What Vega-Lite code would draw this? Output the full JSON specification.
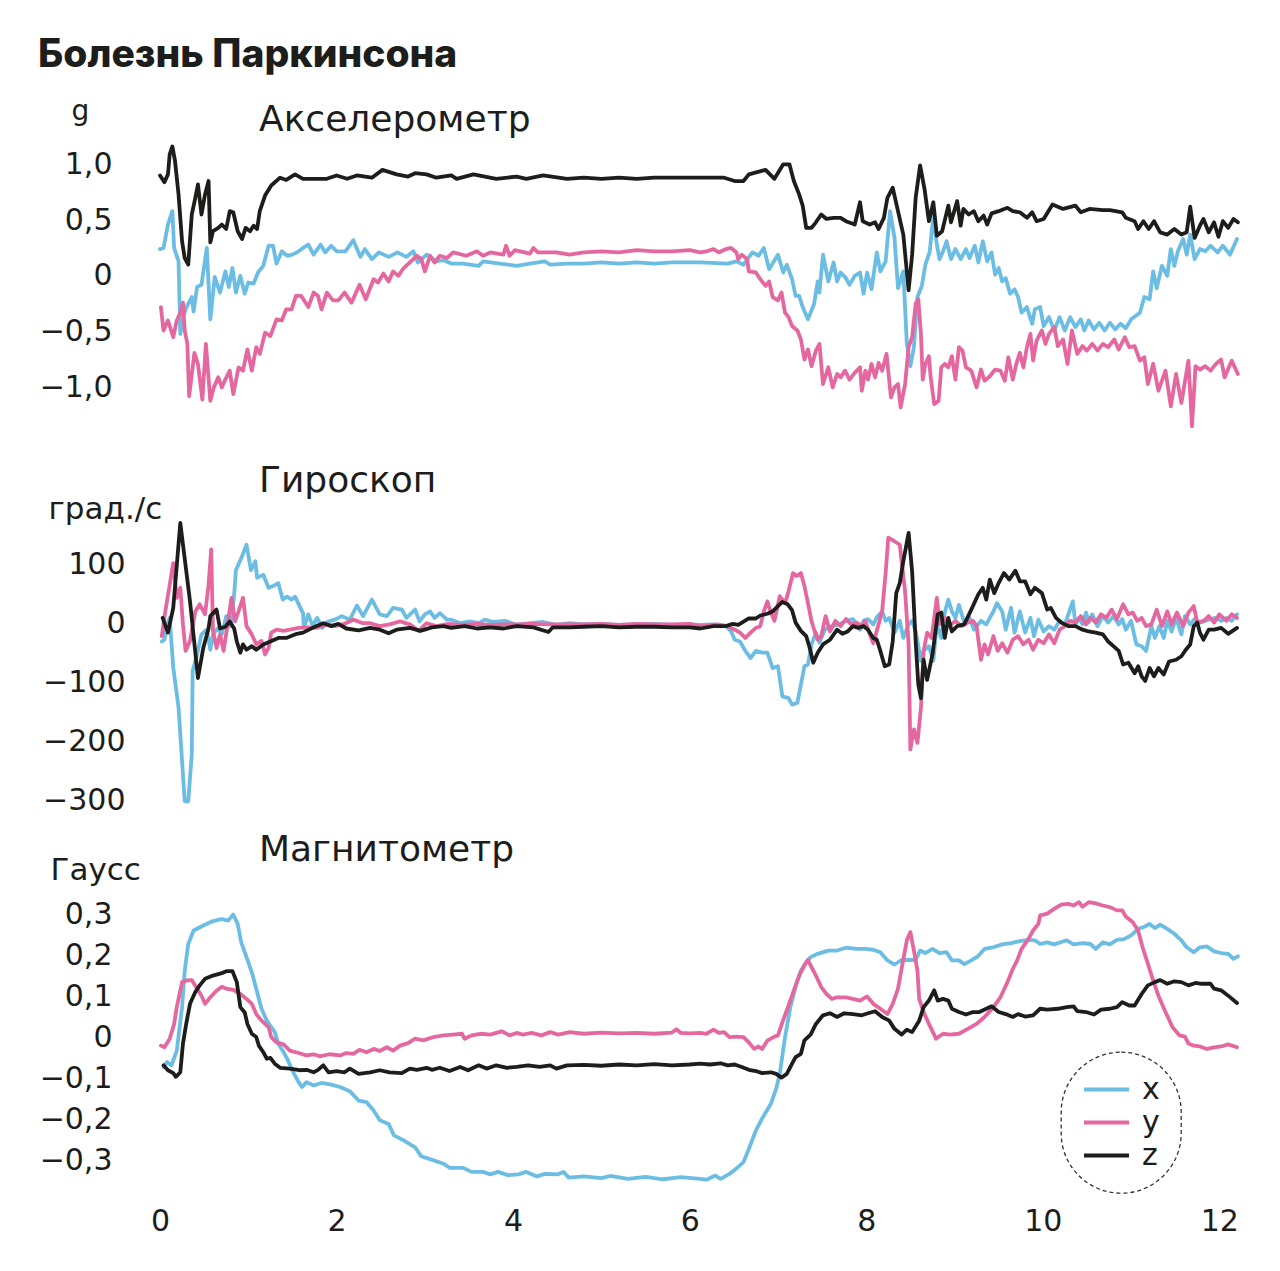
{
"$schema": "https://vega.github.io/schema/vega-lite/v6.json",
"background": "white",
"padding": {"left": 38, "top": 36, "right": 30, "bottom": 20},
"title": {"text": "Болезнь Паркинсона", "anchor": "start", "frame": "group", "dx": -122, "offset": -9, "baseline": "alphabetic", "fontSize": 39, "fontWeight": 800, "font": "Inter", "color": "#1d1d1b"},
"datasets": {
"acc": [
{"t":0,"c":"x","v":0.24},{"t":0.04,"c":"x","v":0.25},{"t":0.09,"c":"x","v":0.46},{"t":0.14,"c":"x","v":0.58},{"t":0.16,"c":"x","v":0.25},{"t":0.21,"c":"x","v":0.13},{"t":0.23,"c":"x","v":-0.52},{"t":0.26,"c":"x","v":-0.37},{"t":0.30,"c":"x","v":-0.28},{"t":0.36,"c":"x","v":-0.19},{"t":0.38,"c":"x","v":-0.32},{"t":0.42,"c":"x","v":-0.10},{"t":0.47,"c":"x","v":-0.08},{"t":0.53,"c":"x","v":0.25},{"t":0.57,"c":"x","v":-0.39},{"t":0.62,"c":"x","v":-0.01},{"t":0.68,"c":"x","v":-0.15},{"t":0.74,"c":"x","v":0.04},{"t":0.78,"c":"x","v":-0.10},{"t":0.82,"c":"x","v":0.07},{"t":0.86,"c":"x","v":-0.15},{"t":0.91,"c":"x","v":0.00},{"t":0.96,"c":"x","v":-0.16},{"t":1.0,"c":"x","v":-0.06},{"t":1.06,"c":"x","v":-0.07},{"t":1.11,"c":"x","v":0.03},{"t":1.17,"c":"x","v":0.09},{"t":1.23,"c":"x","v":0.27},{"t":1.28,"c":"x","v":0.27},{"t":1.32,"c":"x","v":0.11},{"t":1.38,"c":"x","v":0.22},{"t":1.44,"c":"x","v":0.18},{"t":1.50,"c":"x","v":0.19},{"t":1.55,"c":"x","v":0.21},{"t":1.62,"c":"x","v":0.25},{"t":1.68,"c":"x","v":0.28},{"t":1.74,"c":"x","v":0.19},{"t":1.82,"c":"x","v":0.28},{"t":1.87,"c":"x","v":0.21},{"t":1.94,"c":"x","v":0.27},{"t":2.0,"c":"x","v":0.22},{"t":2.1,"c":"x","v":0.22},{"t":2.19,"c":"x","v":0.32},{"t":2.27,"c":"x","v":0.17},{"t":2.32,"c":"x","v":0.24},{"t":2.40,"c":"x","v":0.15},{"t":2.48,"c":"x","v":0.21},{"t":2.59,"c":"x","v":0.17},{"t":2.69,"c":"x","v":0.21},{"t":2.79,"c":"x","v":0.17},{"t":2.87,"c":"x","v":0.22},{"t":2.92,"c":"x","v":0.12},{"t":3.02,"c":"x","v":0.19},{"t":3.13,"c":"x","v":0.13},{"t":3.21,"c":"x","v":0.14},{"t":3.30,"c":"x","v":0.11},{"t":3.43,"c":"x","v":0.11},{"t":3.61,"c":"x","v":0.09},{"t":3.66,"c":"x","v":0.13},{"t":3.85,"c":"x","v":0.11},{"t":4.04,"c":"x","v":0.09},{"t":4.19,"c":"x","v":0.11},{"t":4.36,"c":"x","v":0.13},{"t":4.42,"c":"x","v":0.10},{"t":4.61,"c":"x","v":0.11},{"t":4.8,"c":"x","v":0.11},{"t":5.0,"c":"x","v":0.12},{"t":5.2,"c":"x","v":0.11},{"t":5.4,"c":"x","v":0.12},{"t":5.6,"c":"x","v":0.11},{"t":5.8,"c":"x","v":0.12},{"t":6.0,"c":"x","v":0.12},{"t":6.12,"c":"x","v":0.12},{"t":6.43,"c":"x","v":0.11},{"t":6.53,"c":"x","v":0.13},{"t":6.61,"c":"x","v":0.10},{"t":6.71,"c":"x","v":0.21},{"t":6.78,"c":"x","v":0.18},{"t":6.84,"c":"x","v":0.25},{"t":6.90,"c":"x","v":0.06},{"t":7.00,"c":"x","v":0.19},{"t":7.06,"c":"x","v":0.03},{"t":7.10,"c":"x","v":0.10},{"t":7.16,"c":"x","v":-0.03},{"t":7.20,"c":"x","v":-0.18},{"t":7.24,"c":"x","v":-0.18},{"t":7.28,"c":"x","v":-0.28},{"t":7.34,"c":"x","v":-0.39},{"t":7.41,"c":"x","v":-0.25},{"t":7.45,"c":"x","v":-0.05},{"t":7.47,"c":"x","v":-0.15},{"t":7.51,"c":"x","v":0.19},{"t":7.57,"c":"x","v":-0.05},{"t":7.63,"c":"x","v":0.12},{"t":7.67,"c":"x","v":-0.05},{"t":7.71,"c":"x","v":0.03},{"t":7.77,"c":"x","v":-0.02},{"t":7.81,"c":"x","v":-0.08},{"t":7.87,"c":"x","v":0.00},{"t":7.93,"c":"x","v":0.03},{"t":7.97,"c":"x","v":-0.16},{"t":8.01,"c":"x","v":0.03},{"t":8.06,"c":"x","v":-0.12},{"t":8.12,"c":"x","v":0.21},{"t":8.16,"c":"x","v":0.04},{"t":8.22,"c":"x","v":0.13},{"t":8.27,"c":"x","v":0.58},{"t":8.32,"c":"x","v":0.34},{"t":8.36,"c":"x","v":-0.11},{"t":8.42,"c":"x","v":0.04},{"t":8.46,"c":"x","v":-0.61},{"t":8.50,"c":"x","v":-0.81},{"t":8.54,"c":"x","v":-0.64},{"t":8.58,"c":"x","v":-0.19},{"t":8.63,"c":"x","v":-0.09},{"t":8.67,"c":"x","v":0.10},{"t":8.72,"c":"x","v":0.22},{"t":8.76,"c":"x","v":0.54},{"t":8.80,"c":"x","v":0.28},{"t":8.83,"c":"x","v":0.15},{"t":8.87,"c":"x","v":0.22},{"t":8.91,"c":"x","v":0.31},{"t":8.96,"c":"x","v":0.15},{"t":9.01,"c":"x","v":0.24},{"t":9.07,"c":"x","v":0.15},{"t":9.13,"c":"x","v":0.24},{"t":9.17,"c":"x","v":0.16},{"t":9.23,"c":"x","v":0.27},{"t":9.27,"c":"x","v":0.12},{"t":9.32,"c":"x","v":0.31},{"t":9.37,"c":"x","v":0.13},{"t":9.42,"c":"x","v":0.21},{"t":9.46,"c":"x","v":0.01},{"t":9.50,"c":"x","v":0.07},{"t":9.54,"c":"x","v":-0.05},{"t":9.58,"c":"x","v":-0.02},{"t":9.63,"c":"x","v":-0.16},{"t":9.68,"c":"x","v":-0.12},{"t":9.72,"c":"x","v":-0.19},{"t":9.76,"c":"x","v":-0.33},{"t":9.82,"c":"x","v":-0.28},{"t":9.88,"c":"x","v":-0.43},{"t":9.91,"c":"x","v":-0.30},{"t":9.97,"c":"x","v":-0.28},{"t":10.01,"c":"x","v":-0.45},{"t":10.07,"c":"x","v":-0.37},{"t":10.13,"c":"x","v":-0.49},{"t":10.19,"c":"x","v":-0.37},{"t":10.25,"c":"x","v":-0.49},{"t":10.31,"c":"x","v":-0.37},{"t":10.37,"c":"x","v":-0.46},{"t":10.43,"c":"x","v":-0.39},{"t":10.47,"c":"x","v":-0.49},{"t":10.52,"c":"x","v":-0.40},{"t":10.58,"c":"x","v":-0.48},{"t":10.64,"c":"x","v":-0.42},{"t":10.70,"c":"x","v":-0.49},{"t":10.76,"c":"x","v":-0.42},{"t":10.82,"c":"x","v":-0.48},{"t":10.88,"c":"x","v":-0.43},{"t":10.94,"c":"x","v":-0.47},{"t":11.00,"c":"x","v":-0.39},{"t":11.10,"c":"x","v":-0.33},{"t":11.15,"c":"x","v":-0.19},{"t":11.21,"c":"x","v":-0.21},{"t":11.25,"c":"x","v":0.04},{"t":11.29,"c":"x","v":-0.11},{"t":11.35,"c":"x","v":0.09},{"t":11.41,"c":"x","v":0.00},{"t":11.45,"c":"x","v":0.24},{"t":11.49,"c":"x","v":0.09},{"t":11.53,"c":"x","v":0.22},{"t":11.59,"c":"x","v":0.33},{"t":11.63,"c":"x","v":0.19},{"t":11.67,"c":"x","v":0.37},{"t":11.72,"c":"x","v":0.15},{"t":11.78,"c":"x","v":0.24},{"t":11.84,"c":"x","v":0.22},{"t":11.90,"c":"x","v":0.27},{"t":11.98,"c":"x","v":0.21},{"t":12.04,"c":"x","v":0.27},{"t":12.12,"c":"x","v":0.19},{"t":12.20,"c":"x","v":0.33},
{"t":0.01,"c":"y","v":-0.28},{"t":0.04,"c":"y","v":-0.49},{"t":0.09,"c":"y","v":-0.40},{"t":0.15,"c":"y","v":-0.55},{"t":0.19,"c":"y","v":-0.40},{"t":0.23,"c":"y","v":-0.33},{"t":0.26,"c":"y","v":-0.24},{"t":0.28,"c":"y","v":-0.49},{"t":0.31,"c":"y","v":-0.61},{"t":0.33,"c":"y","v":-1.08},{"t":0.39,"c":"y","v":-0.69},{"t":0.43,"c":"y","v":-0.79},{"t":0.48,"c":"y","v":-1.11},{"t":0.52,"c":"y","v":-0.61},{"t":0.57,"c":"y","v":-1.12},{"t":0.61,"c":"y","v":-1.00},{"t":0.66,"c":"y","v":-0.91},{"t":0.70,"c":"y","v":-1.00},{"t":0.74,"c":"y","v":-0.93},{"t":0.79,"c":"y","v":-0.85},{"t":0.83,"c":"y","v":-1.06},{"t":0.89,"c":"y","v":-0.82},{"t":0.94,"c":"y","v":-0.85},{"t":0.99,"c":"y","v":-0.66},{"t":1.04,"c":"y","v":-0.85},{"t":1.09,"c":"y","v":-0.64},{"t":1.13,"c":"y","v":-0.70},{"t":1.19,"c":"y","v":-0.51},{"t":1.25,"c":"y","v":-0.54},{"t":1.32,"c":"y","v":-0.39},{"t":1.38,"c":"y","v":-0.40},{"t":1.43,"c":"y","v":-0.30},{"t":1.49,"c":"y","v":-0.30},{"t":1.54,"c":"y","v":-0.18},{"t":1.60,"c":"y","v":-0.18},{"t":1.68,"c":"y","v":-0.28},{"t":1.74,"c":"y","v":-0.15},{"t":1.79,"c":"y","v":-0.18},{"t":1.83,"c":"y","v":-0.30},{"t":1.89,"c":"y","v":-0.15},{"t":1.96,"c":"y","v":-0.22},{"t":2.02,"c":"y","v":-0.22},{"t":2.09,"c":"y","v":-0.15},{"t":2.17,"c":"y","v":-0.24},{"t":2.26,"c":"y","v":-0.08},{"t":2.33,"c":"y","v":-0.21},{"t":2.42,"c":"y","v":-0.03},{"t":2.47,"c":"y","v":-0.06},{"t":2.53,"c":"y","v":0.02},{"t":2.59,"c":"y","v":-0.05},{"t":2.64,"c":"y","v":0.04},{"t":2.70,"c":"y","v":0.00},{"t":2.76,"c":"y","v":0.07},{"t":2.83,"c":"y","v":0.12},{"t":2.91,"c":"y","v":0.18},{"t":2.96,"c":"y","v":0.15},{"t":3.00,"c":"y","v":0.04},{"t":3.06,"c":"y","v":0.18},{"t":3.11,"c":"y","v":0.12},{"t":3.17,"c":"y","v":0.18},{"t":3.25,"c":"y","v":0.16},{"t":3.32,"c":"y","v":0.21},{"t":3.47,"c":"y","v":0.18},{"t":3.59,"c":"y","v":0.22},{"t":3.66,"c":"y","v":0.18},{"t":3.74,"c":"y","v":0.21},{"t":3.89,"c":"y","v":0.19},{"t":3.92,"c":"y","v":0.27},{"t":3.96,"c":"y","v":0.18},{"t":4.02,"c":"y","v":0.23},{"t":4.19,"c":"y","v":0.20},{"t":4.23,"c":"y","v":0.25},{"t":4.28,"c":"y","v":0.21},{"t":4.49,"c":"y","v":0.21},{"t":4.64,"c":"y","v":0.19},{"t":4.8,"c":"y","v":0.21},{"t":5.0,"c":"y","v":0.22},{"t":5.2,"c":"y","v":0.21},{"t":5.4,"c":"y","v":0.23},{"t":5.6,"c":"y","v":0.22},{"t":5.8,"c":"y","v":0.22},{"t":6.0,"c":"y","v":0.23},{"t":6.12,"c":"y","v":0.21},{"t":6.19,"c":"y","v":0.22},{"t":6.27,"c":"y","v":0.24},{"t":6.33,"c":"y","v":0.21},{"t":6.41,"c":"y","v":0.24},{"t":6.47,"c":"y","v":0.25},{"t":6.53,"c":"y","v":0.21},{"t":6.55,"c":"y","v":0.15},{"t":6.59,"c":"y","v":0.19},{"t":6.65,"c":"y","v":0.15},{"t":6.67,"c":"y","v":0.04},{"t":6.75,"c":"y","v":0.03},{"t":6.80,"c":"y","v":-0.03},{"t":6.86,"c":"y","v":-0.09},{"t":6.90,"c":"y","v":-0.05},{"t":6.94,"c":"y","v":-0.19},{"t":7.00,"c":"y","v":-0.22},{"t":7.04,"c":"y","v":-0.15},{"t":7.08,"c":"y","v":-0.33},{"t":7.12,"c":"y","v":-0.37},{"t":7.16,"c":"y","v":-0.45},{"t":7.22,"c":"y","v":-0.49},{"t":7.26,"c":"y","v":-0.57},{"t":7.30,"c":"y","v":-0.75},{"t":7.34,"c":"y","v":-0.66},{"t":7.38,"c":"y","v":-0.81},{"t":7.43,"c":"y","v":-0.67},{"t":7.47,"c":"y","v":-0.61},{"t":7.51,"c":"y","v":-0.97},{"t":7.57,"c":"y","v":-0.82},{"t":7.62,"c":"y","v":-1.00},{"t":7.67,"c":"y","v":-0.88},{"t":7.71,"c":"y","v":-0.91},{"t":7.76,"c":"y","v":-0.85},{"t":7.81,"c":"y","v":-0.93},{"t":7.87,"c":"y","v":-0.87},{"t":7.93,"c":"y","v":-0.82},{"t":7.95,"c":"y","v":-1.03},{"t":7.99,"c":"y","v":-0.85},{"t":8.02,"c":"y","v":-0.93},{"t":8.06,"c":"y","v":-0.79},{"t":8.10,"c":"y","v":-0.91},{"t":8.14,"c":"y","v":-0.78},{"t":8.18,"c":"y","v":-0.85},{"t":8.23,"c":"y","v":-0.70},{"t":8.28,"c":"y","v":-1.09},{"t":8.32,"c":"y","v":-1.00},{"t":8.36,"c":"y","v":-0.97},{"t":8.39,"c":"y","v":-1.18},{"t":8.44,"c":"y","v":-0.97},{"t":8.48,"c":"y","v":-0.64},{"t":8.52,"c":"y","v":-0.55},{"t":8.56,"c":"y","v":-0.25},{"t":8.59,"c":"y","v":-0.21},{"t":8.62,"c":"y","v":-0.52},{"t":8.64,"c":"y","v":-0.93},{"t":8.67,"c":"y","v":-0.79},{"t":8.71,"c":"y","v":-0.72},{"t":8.73,"c":"y","v":-0.91},{"t":8.77,"c":"y","v":-1.15},{"t":8.82,"c":"y","v":-1.12},{"t":8.85,"c":"y","v":-0.82},{"t":8.89,"c":"y","v":-0.79},{"t":8.93,"c":"y","v":-0.82},{"t":8.97,"c":"y","v":-0.72},{"t":9.01,"c":"y","v":-0.93},{"t":9.05,"c":"y","v":-0.64},{"t":9.09,"c":"y","v":-0.67},{"t":9.13,"c":"y","v":-0.82},{"t":9.19,"c":"y","v":-0.85},{"t":9.25,"c":"y","v":-1.00},{"t":9.30,"c":"y","v":-0.84},{"t":9.34,"c":"y","v":-0.94},{"t":9.40,"c":"y","v":-0.90},{"t":9.46,"c":"y","v":-0.84},{"t":9.52,"c":"y","v":-0.85},{"t":9.57,"c":"y","v":-0.94},{"t":9.61,"c":"y","v":-0.73},{"t":9.66,"c":"y","v":-0.93},{"t":9.70,"c":"y","v":-0.79},{"t":9.74,"c":"y","v":-0.69},{"t":9.78,"c":"y","v":-0.82},{"t":9.82,"c":"y","v":-0.64},{"t":9.86,"c":"y","v":-0.52},{"t":9.89,"c":"y","v":-0.76},{"t":9.93,"c":"y","v":-0.58},{"t":9.99,"c":"y","v":-0.49},{"t":10.03,"c":"y","v":-0.61},{"t":10.07,"c":"y","v":-0.52},{"t":10.13,"c":"y","v":-0.46},{"t":10.17,"c":"y","v":-0.63},{"t":10.23,"c":"y","v":-0.57},{"t":10.28,"c":"y","v":-0.79},{"t":10.33,"c":"y","v":-0.49},{"t":10.39,"c":"y","v":-0.70},{"t":10.45,"c":"y","v":-0.63},{"t":10.50,"c":"y","v":-0.67},{"t":10.56,"c":"y","v":-0.61},{"t":10.62,"c":"y","v":-0.67},{"t":10.68,"c":"y","v":-0.61},{"t":10.74,"c":"y","v":-0.64},{"t":10.81,"c":"y","v":-0.57},{"t":10.86,"c":"y","v":-0.66},{"t":10.93,"c":"y","v":-0.55},{"t":10.98,"c":"y","v":-0.64},{"t":11.04,"c":"y","v":-0.63},{"t":11.10,"c":"y","v":-0.76},{"t":11.15,"c":"y","v":-0.73},{"t":11.19,"c":"y","v":-0.97},{"t":11.25,"c":"y","v":-0.79},{"t":11.31,"c":"y","v":-1.03},{"t":11.39,"c":"y","v":-0.85},{"t":11.45,"c":"y","v":-1.17},{"t":11.51,"c":"y","v":-0.88},{"t":11.57,"c":"y","v":-1.14},{"t":11.65,"c":"y","v":-0.76},{"t":11.69,"c":"y","v":-1.35},{"t":11.73,"c":"y","v":-0.81},{"t":11.78,"c":"y","v":-0.84},{"t":11.84,"c":"y","v":-0.81},{"t":11.90,"c":"y","v":-0.85},{"t":11.96,"c":"y","v":-0.79},{"t":12.02,"c":"y","v":-0.75},{"t":12.06,"c":"y","v":-0.91},{"t":12.14,"c":"y","v":-0.76},{"t":12.21,"c":"y","v":-0.88},
{"t":0,"c":"z","v":0.90},{"t":0.05,"c":"z","v":0.84},{"t":0.09,"c":"z","v":0.91},{"t":0.11,"c":"z","v":1.09},{"t":0.14,"c":"z","v":1.16},{"t":0.17,"c":"z","v":1.03},{"t":0.21,"c":"z","v":0.73},{"t":0.25,"c":"z","v":0.31},{"t":0.28,"c":"z","v":0.16},{"t":0.32,"c":"z","v":0.10},{"t":0.36,"c":"z","v":0.55},{"t":0.40,"c":"z","v":0.70},{"t":0.43,"c":"z","v":0.82},{"t":0.47,"c":"z","v":0.55},{"t":0.51,"c":"z","v":0.73},{"t":0.55,"c":"z","v":0.85},{"t":0.57,"c":"z","v":0.30},{"t":0.60,"c":"z","v":0.40},{"t":0.66,"c":"z","v":0.43},{"t":0.70,"c":"z","v":0.46},{"t":0.75,"c":"z","v":0.42},{"t":0.79,"c":"z","v":0.58},{"t":0.83,"c":"z","v":0.57},{"t":0.88,"c":"z","v":0.40},{"t":0.93,"c":"z","v":0.33},{"t":0.97,"c":"z","v":0.43},{"t":1.02,"c":"z","v":0.40},{"t":1.06,"c":"z","v":0.45},{"t":1.10,"c":"z","v":0.42},{"t":1.13,"c":"z","v":0.58},{"t":1.19,"c":"z","v":0.72},{"t":1.26,"c":"z","v":0.81},{"t":1.36,"c":"z","v":0.88},{"t":1.43,"c":"z","v":0.86},{"t":1.53,"c":"z","v":0.91},{"t":1.62,"c":"z","v":0.87},{"t":1.75,"c":"z","v":0.87},{"t":1.89,"c":"z","v":0.87},{"t":2.0,"c":"z","v":0.90},{"t":2.12,"c":"z","v":0.87},{"t":2.23,"c":"z","v":0.90},{"t":2.40,"c":"z","v":0.88},{"t":2.52,"c":"z","v":0.95},{"t":2.68,"c":"z","v":0.91},{"t":2.81,"c":"z","v":0.89},{"t":2.89,"c":"z","v":0.92},{"t":3.02,"c":"z","v":0.91},{"t":3.13,"c":"z","v":0.88},{"t":3.30,"c":"z","v":0.90},{"t":3.36,"c":"z","v":0.87},{"t":3.55,"c":"z","v":0.91},{"t":3.81,"c":"z","v":0.87},{"t":4.04,"c":"z","v":0.89},{"t":4.15,"c":"z","v":0.87},{"t":4.34,"c":"z","v":0.90},{"t":4.61,"c":"z","v":0.87},{"t":4.8,"c":"z","v":0.88},{"t":5.0,"c":"z","v":0.87},{"t":5.2,"c":"z","v":0.88},{"t":5.4,"c":"z","v":0.87},{"t":5.6,"c":"z","v":0.88},{"t":5.8,"c":"z","v":0.88},{"t":6.0,"c":"z","v":0.88},{"t":6.12,"c":"z","v":0.88},{"t":6.39,"c":"z","v":0.88},{"t":6.51,"c":"z","v":0.85},{"t":6.61,"c":"z","v":0.85},{"t":6.67,"c":"z","v":0.91},{"t":6.86,"c":"z","v":0.95},{"t":6.96,"c":"z","v":0.87},{"t":7.06,"c":"z","v":1.00},{"t":7.13,"c":"z","v":1.00},{"t":7.18,"c":"z","v":0.85},{"t":7.24,"c":"z","v":0.73},{"t":7.28,"c":"z","v":0.63},{"t":7.32,"c":"z","v":0.43},{"t":7.38,"c":"z","v":0.43},{"t":7.43,"c":"z","v":0.48},{"t":7.49,"c":"z","v":0.55},{"t":7.55,"c":"z","v":0.51},{"t":7.63,"c":"z","v":0.52},{"t":7.71,"c":"z","v":0.52},{"t":7.77,"c":"z","v":0.49},{"t":7.87,"c":"z","v":0.46},{"t":7.93,"c":"z","v":0.66},{"t":7.96,"c":"z","v":0.49},{"t":8.04,"c":"z","v":0.46},{"t":8.10,"c":"z","v":0.48},{"t":8.14,"c":"z","v":0.42},{"t":8.20,"c":"z","v":0.52},{"t":8.24,"c":"z","v":0.70},{"t":8.30,"c":"z","v":0.79},{"t":8.36,"c":"z","v":0.58},{"t":8.42,"c":"z","v":0.37},{"t":8.48,"c":"z","v":-0.13},{"t":8.52,"c":"z","v":0.19},{"t":8.56,"c":"z","v":0.70},{"t":8.61,"c":"z","v":0.99},{"t":8.66,"c":"z","v":0.78},{"t":8.71,"c":"z","v":0.49},{"t":8.76,"c":"z","v":0.66},{"t":8.80,"c":"z","v":0.36},{"t":8.86,"c":"z","v":0.40},{"t":8.93,"c":"z","v":0.63},{"t":8.96,"c":"z","v":0.48},{"t":9.03,"c":"z","v":0.67},{"t":9.07,"c":"z","v":0.45},{"t":9.10,"c":"z","v":0.60},{"t":9.16,"c":"z","v":0.55},{"t":9.22,"c":"z","v":0.58},{"t":9.27,"c":"z","v":0.49},{"t":9.33,"c":"z","v":0.54},{"t":9.37,"c":"z","v":0.46},{"t":9.42,"c":"z","v":0.56},{"t":9.50,"c":"z","v":0.58},{"t":9.60,"c":"z","v":0.61},{"t":9.66,"c":"z","v":0.58},{"t":9.74,"c":"z","v":0.57},{"t":9.82,"c":"z","v":0.52},{"t":9.88,"c":"z","v":0.57},{"t":9.93,"c":"z","v":0.49},{"t":10.01,"c":"z","v":0.51},{"t":10.11,"c":"z","v":0.64},{"t":10.23,"c":"z","v":0.60},{"t":10.37,"c":"z","v":0.63},{"t":10.43,"c":"z","v":0.57},{"t":10.53,"c":"z","v":0.60},{"t":10.68,"c":"z","v":0.59},{"t":10.76,"c":"z","v":0.59},{"t":10.90,"c":"z","v":0.57},{"t":10.94,"c":"z","v":0.52},{"t":11.04,"c":"z","v":0.49},{"t":11.08,"c":"z","v":0.42},{"t":11.14,"c":"z","v":0.49},{"t":11.20,"c":"z","v":0.42},{"t":11.26,"c":"z","v":0.49},{"t":11.33,"c":"z","v":0.39},{"t":11.41,"c":"z","v":0.37},{"t":11.49,"c":"z","v":0.42},{"t":11.57,"c":"z","v":0.37},{"t":11.63,"c":"z","v":0.39},{"t":11.67,"c":"z","v":0.62},{"t":11.72,"c":"z","v":0.34},{"t":11.78,"c":"z","v":0.45},{"t":11.82,"c":"z","v":0.51},{"t":11.88,"c":"z","v":0.39},{"t":11.94,"c":"z","v":0.48},{"t":11.99,"c":"z","v":0.35},{"t":12.04,"c":"z","v":0.49},{"t":12.10,"c":"z","v":0.43},{"t":12.16,"c":"z","v":0.51},{"t":12.21,"c":"z","v":0.48}
],
"gyr": [
{"t":0.02,"c":"x","v":-31},{"t":0.05,"c":"x","v":-28},{"t":0.08,"c":"x","v":-2},{"t":0.11,"c":"x","v":9},{"t":0.15,"c":"x","v":-75},{"t":0.21,"c":"x","v":-143},{"t":0.25,"c":"x","v":-234},{"t":0.28,"c":"x","v":-302},{"t":0.32,"c":"x","v":-302},{"t":0.36,"c":"x","v":-222},{"t":0.37,"c":"x","v":-81},{"t":0.42,"c":"x","v":-53},{"t":0.47,"c":"x","v":-19},{"t":0.53,"c":"x","v":-11},{"t":0.57,"c":"x","v":-45},{"t":0.60,"c":"x","v":-19},{"t":0.66,"c":"x","v":-8},{"t":0.70,"c":"x","v":-19},{"t":0.75,"c":"x","v":12},{"t":0.80,"c":"x","v":-5},{"t":0.84,"c":"x","v":49},{"t":0.86,"c":"x","v":90},{"t":0.92,"c":"x","v":110},{"t":0.98,"c":"x","v":133},{"t":1.03,"c":"x","v":90},{"t":1.08,"c":"x","v":105},{"t":1.10,"c":"x","v":77},{"t":1.17,"c":"x","v":82},{"t":1.23,"c":"x","v":60},{"t":1.28,"c":"x","v":63},{"t":1.34,"c":"x","v":68},{"t":1.39,"c":"x","v":40},{"t":1.44,"c":"x","v":45},{"t":1.49,"c":"x","v":40},{"t":1.53,"c":"x","v":45},{"t":1.59,"c":"x","v":26},{"t":1.62,"c":"x","v":17},{"t":1.63,"c":"x","v":-8},{"t":1.68,"c":"x","v":15},{"t":1.73,"c":"x","v":-5},{"t":1.78,"c":"x","v":9},{"t":1.84,"c":"x","v":-8},{"t":1.89,"c":"x","v":2},{"t":1.98,"c":"x","v":6},{"t":2.06,"c":"x","v":12},{"t":2.15,"c":"x","v":6},{"t":2.23,"c":"x","v":30},{"t":2.30,"c":"x","v":12},{"t":2.40,"c":"x","v":40},{"t":2.49,"c":"x","v":15},{"t":2.57,"c":"x","v":12},{"t":2.64,"c":"x","v":26},{"t":2.74,"c":"x","v":23},{"t":2.79,"c":"x","v":9},{"t":2.89,"c":"x","v":23},{"t":2.94,"c":"x","v":3},{"t":3.00,"c":"x","v":15},{"t":3.06,"c":"x","v":20},{"t":3.11,"c":"x","v":9},{"t":3.17,"c":"x","v":17},{"t":3.25,"c":"x","v":6},{"t":3.30,"c":"x","v":6},{"t":3.40,"c":"x","v":0},{"t":3.51,"c":"x","v":3},{"t":3.61,"c":"x","v":0},{"t":3.68,"c":"x","v":6},{"t":3.77,"c":"x","v":2},{"t":3.91,"c":"x","v":4},{"t":4.04,"c":"x","v":-3},{"t":4.19,"c":"x","v":0},{"t":4.34,"c":"x","v":2},{"t":4.49,"c":"x","v":-3},{"t":4.64,"c":"x","v":0},{"t":4.8,"c":"x","v":-2},{"t":5.0,"c":"x","v":-1},{"t":5.2,"c":"x","v":-3},{"t":5.4,"c":"x","v":-2},{"t":5.6,"c":"x","v":-1},{"t":5.8,"c":"x","v":-3},{"t":6.0,"c":"x","v":-2},{"t":6.12,"c":"x","v":-3},{"t":6.27,"c":"x","v":-2},{"t":6.41,"c":"x","v":-5},{"t":6.47,"c":"x","v":-14},{"t":6.51,"c":"x","v":-28},{"t":6.57,"c":"x","v":-31},{"t":6.63,"c":"x","v":-47},{"t":6.69,"c":"x","v":-59},{"t":6.75,"c":"x","v":-47},{"t":6.82,"c":"x","v":-50},{"t":6.88,"c":"x","v":-50},{"t":6.94,"c":"x","v":-76},{"t":7.00,"c":"x","v":-73},{"t":7.05,"c":"x","v":-124},{"t":7.12,"c":"x","v":-127},{"t":7.16,"c":"x","v":-138},{"t":7.22,"c":"x","v":-135},{"t":7.26,"c":"x","v":-104},{"t":7.30,"c":"x","v":-73},{"t":7.34,"c":"x","v":-70},{"t":7.38,"c":"x","v":-36},{"t":7.43,"c":"x","v":-16},{"t":7.47,"c":"x","v":-33},{"t":7.53,"c":"x","v":-11},{"t":7.61,"c":"x","v":-5},{"t":7.69,"c":"x","v":-2},{"t":7.77,"c":"x","v":4},{"t":7.85,"c":"x","v":7},{"t":7.93,"c":"x","v":-11},{"t":7.97,"c":"x","v":4},{"t":8.02,"c":"x","v":7},{"t":8.08,"c":"x","v":-2},{"t":8.12,"c":"x","v":10},{"t":8.18,"c":"x","v":20},{"t":8.22,"c":"x","v":4},{"t":8.26,"c":"x","v":9},{"t":8.32,"c":"x","v":-16},{"t":8.38,"c":"x","v":4},{"t":8.42,"c":"x","v":-25},{"t":8.48,"c":"x","v":-2},{"t":8.52,"c":"x","v":4},{"t":8.56,"c":"x","v":-14},{"t":8.62,"c":"x","v":-64},{"t":8.65,"c":"x","v":-47},{"t":8.71,"c":"x","v":-39},{"t":8.76,"c":"x","v":-64},{"t":8.80,"c":"x","v":-2},{"t":8.85,"c":"x","v":-25},{"t":8.89,"c":"x","v":18},{"t":8.93,"c":"x","v":40},{"t":8.97,"c":"x","v":20},{"t":9.01,"c":"x","v":9},{"t":9.05,"c":"x","v":31},{"t":9.11,"c":"x","v":1},{"t":9.17,"c":"x","v":9},{"t":9.22,"c":"x","v":-11},{"t":9.30,"c":"x","v":4},{"t":9.36,"c":"x","v":-2},{"t":9.44,"c":"x","v":20},{"t":9.48,"c":"x","v":34},{"t":9.54,"c":"x","v":20},{"t":9.58,"c":"x","v":-11},{"t":9.64,"c":"x","v":26},{"t":9.68,"c":"x","v":-16},{"t":9.74,"c":"x","v":20},{"t":9.80,"c":"x","v":-16},{"t":9.86,"c":"x","v":9},{"t":9.90,"c":"x","v":-22},{"t":9.95,"c":"x","v":6},{"t":10.01,"c":"x","v":-14},{"t":10.07,"c":"x","v":-5},{"t":10.13,"c":"x","v":-11},{"t":10.19,"c":"x","v":4},{"t":10.25,"c":"x","v":-2},{"t":10.29,"c":"x","v":15},{"t":10.34,"c":"x","v":37},{"t":10.37,"c":"x","v":-2},{"t":10.41,"c":"x","v":9},{"t":10.45,"c":"x","v":-2},{"t":10.49,"c":"x","v":18},{"t":10.52,"c":"x","v":1},{"t":10.56,"c":"x","v":15},{"t":10.62,"c":"x","v":-5},{"t":10.68,"c":"x","v":12},{"t":10.74,"c":"x","v":1},{"t":10.80,"c":"x","v":12},{"t":10.86,"c":"x","v":-2},{"t":10.90,"c":"x","v":7},{"t":10.94,"c":"x","v":-11},{"t":11.00,"c":"x","v":4},{"t":11.06,"c":"x","v":-36},{"t":11.12,"c":"x","v":-39},{"t":11.17,"c":"x","v":-47},{"t":11.23,"c":"x","v":-5},{"t":11.27,"c":"x","v":-25},{"t":11.32,"c":"x","v":-5},{"t":11.37,"c":"x","v":-25},{"t":11.41,"c":"x","v":4},{"t":11.46,"c":"x","v":-14},{"t":11.51,"c":"x","v":9},{"t":11.57,"c":"x","v":-19},{"t":11.61,"c":"x","v":12},{"t":11.67,"c":"x","v":-2},{"t":11.72,"c":"x","v":7},{"t":11.78,"c":"x","v":1},{"t":11.84,"c":"x","v":4},{"t":11.90,"c":"x","v":7},{"t":11.96,"c":"x","v":9},{"t":12.02,"c":"x","v":4},{"t":12.08,"c":"x","v":9},{"t":12.14,"c":"x","v":4},{"t":12.20,"c":"x","v":15},
{"t":0.02,"c":"y","v":-22},{"t":0.06,"c":"y","v":20},{"t":0.11,"c":"y","v":65},{"t":0.15,"c":"y","v":102},{"t":0.19,"c":"y","v":43},{"t":0.23,"c":"y","v":60},{"t":0.26,"c":"y","v":-2},{"t":0.29,"c":"y","v":-47},{"t":0.34,"c":"y","v":-30},{"t":0.40,"c":"y","v":20},{"t":0.45,"c":"y","v":32},{"t":0.51,"c":"y","v":15},{"t":0.55,"c":"y","v":65},{"t":0.58,"c":"y","v":125},{"t":0.60,"c":"y","v":-13},{"t":0.64,"c":"y","v":-42},{"t":0.68,"c":"y","v":-19},{"t":0.72,"c":"y","v":-47},{"t":0.76,"c":"y","v":-8},{"t":0.81,"c":"y","v":43},{"t":0.85,"c":"y","v":3},{"t":0.89,"c":"y","v":20},{"t":0.94,"c":"y","v":43},{"t":0.98,"c":"y","v":-5},{"t":1.04,"c":"y","v":-19},{"t":1.09,"c":"y","v":-36},{"t":1.15,"c":"y","v":-30},{"t":1.19,"c":"y","v":-53},{"t":1.23,"c":"y","v":-42},{"t":1.26,"c":"y","v":-16},{"t":1.32,"c":"y","v":-11},{"t":1.40,"c":"y","v":-13},{"t":1.47,"c":"y","v":-11},{"t":1.57,"c":"y","v":-8},{"t":1.66,"c":"y","v":-7},{"t":1.77,"c":"y","v":-8},{"t":1.89,"c":"y","v":-2},{"t":1.98,"c":"y","v":-5},{"t":2.09,"c":"y","v":-1},{"t":2.19,"c":"y","v":6},{"t":2.30,"c":"y","v":0},{"t":2.38,"c":"y","v":0},{"t":2.49,"c":"y","v":-5},{"t":2.60,"c":"y","v":-2},{"t":2.72,"c":"y","v":3},{"t":2.83,"c":"y","v":-2},{"t":2.93,"c":"y","v":-13},{"t":3.02,"c":"y","v":0},{"t":3.13,"c":"y","v":-5},{"t":3.27,"c":"y","v":-1},{"t":3.42,"c":"y","v":-3},{"t":3.59,"c":"y","v":-1},{"t":3.74,"c":"y","v":-3},{"t":3.89,"c":"y","v":-2},{"t":4.04,"c":"y","v":-2},{"t":4.19,"c":"y","v":-1},{"t":4.42,"c":"y","v":-2},{"t":4.64,"c":"y","v":-2},{"t":4.8,"c":"y","v":-2},{"t":5.0,"c":"y","v":-1},{"t":5.2,"c":"y","v":-3},{"t":5.4,"c":"y","v":-1},{"t":5.6,"c":"y","v":-2},{"t":5.8,"c":"y","v":-2},{"t":6.0,"c":"y","v":-1},{"t":6.12,"c":"y","v":-5},{"t":6.31,"c":"y","v":-2},{"t":6.43,"c":"y","v":-5},{"t":6.51,"c":"y","v":-11},{"t":6.57,"c":"y","v":-16},{"t":6.63,"c":"y","v":-25},{"t":6.69,"c":"y","v":-16},{"t":6.75,"c":"y","v":-8},{"t":6.80,"c":"y","v":-5},{"t":6.84,"c":"y","v":20},{"t":6.88,"c":"y","v":37},{"t":6.92,"c":"y","v":18},{"t":6.96,"c":"y","v":4},{"t":7.02,"c":"y","v":46},{"t":7.08,"c":"y","v":34},{"t":7.12,"c":"y","v":54},{"t":7.17,"c":"y","v":85},{"t":7.21,"c":"y","v":80},{"t":7.26,"c":"y","v":85},{"t":7.30,"c":"y","v":63},{"t":7.34,"c":"y","v":34},{"t":7.38,"c":"y","v":4},{"t":7.41,"c":"y","v":-11},{"t":7.45,"c":"y","v":-28},{"t":7.49,"c":"y","v":-22},{"t":7.54,"c":"y","v":12},{"t":7.59,"c":"y","v":-14},{"t":7.65,"c":"y","v":4},{"t":7.71,"c":"y","v":-5},{"t":7.77,"c":"y","v":7},{"t":7.83,"c":"y","v":-2},{"t":7.89,"c":"y","v":1},{"t":7.95,"c":"y","v":-5},{"t":7.99,"c":"y","v":4},{"t":8.04,"c":"y","v":-19},{"t":8.08,"c":"y","v":-34},{"t":8.14,"c":"y","v":-2},{"t":8.18,"c":"y","v":20},{"t":8.22,"c":"y","v":85},{"t":8.25,"c":"y","v":145},{"t":8.32,"c":"y","v":139},{"t":8.38,"c":"y","v":133},{"t":8.44,"c":"y","v":54},{"t":8.48,"c":"y","v":-36},{"t":8.50,"c":"y","v":-214},{"t":8.54,"c":"y","v":-180},{"t":8.58,"c":"y","v":-203},{"t":8.62,"c":"y","v":-143},{"t":8.65,"c":"y","v":-47},{"t":8.69,"c":"y","v":-16},{"t":8.74,"c":"y","v":-25},{"t":8.80,"c":"y","v":43},{"t":8.83,"c":"y","v":-2},{"t":8.89,"c":"y","v":9},{"t":8.94,"c":"y","v":-5},{"t":9.01,"c":"y","v":4},{"t":9.08,"c":"y","v":-5},{"t":9.15,"c":"y","v":1},{"t":9.21,"c":"y","v":4},{"t":9.25,"c":"y","v":-5},{"t":9.30,"c":"y","v":-62},{"t":9.34,"c":"y","v":-36},{"t":9.38,"c":"y","v":-53},{"t":9.44,"c":"y","v":-22},{"t":9.49,"c":"y","v":-47},{"t":9.54,"c":"y","v":-34},{"t":9.60,"c":"y","v":-50},{"t":9.66,"c":"y","v":-28},{"t":9.72,"c":"y","v":-22},{"t":9.78,"c":"y","v":-36},{"t":9.84,"c":"y","v":-28},{"t":9.89,"c":"y","v":-45},{"t":9.95,"c":"y","v":-28},{"t":10.01,"c":"y","v":-34},{"t":10.07,"c":"y","v":-19},{"t":10.13,"c":"y","v":-34},{"t":10.19,"c":"y","v":-11},{"t":10.25,"c":"y","v":-5},{"t":10.31,"c":"y","v":4},{"t":10.37,"c":"y","v":1},{"t":10.43,"c":"y","v":12},{"t":10.49,"c":"y","v":-2},{"t":10.54,"c":"y","v":9},{"t":10.60,"c":"y","v":1},{"t":10.66,"c":"y","v":15},{"t":10.72,"c":"y","v":9},{"t":10.78,"c":"y","v":23},{"t":10.84,"c":"y","v":7},{"t":10.91,"c":"y","v":32},{"t":10.97,"c":"y","v":15},{"t":11.02,"c":"y","v":18},{"t":11.07,"c":"y","v":4},{"t":11.12,"c":"y","v":9},{"t":11.17,"c":"y","v":-5},{"t":11.23,"c":"y","v":-2},{"t":11.29,"c":"y","v":23},{"t":11.35,"c":"y","v":-5},{"t":11.41,"c":"y","v":20},{"t":11.46,"c":"y","v":-2},{"t":11.52,"c":"y","v":18},{"t":11.59,"c":"y","v":-5},{"t":11.65,"c":"y","v":18},{"t":11.71,"c":"y","v":29},{"t":11.75,"c":"y","v":1},{"t":11.82,"c":"y","v":4},{"t":11.88,"c":"y","v":12},{"t":11.94,"c":"y","v":1},{"t":12.00,"c":"y","v":15},{"t":12.08,"c":"y","v":4},{"t":12.14,"c":"y","v":15},{"t":12.20,"c":"y","v":9},
{"t":0.03,"c":"z","v":9},{"t":0.09,"c":"z","v":-16},{"t":0.15,"c":"z","v":26},{"t":0.23,"c":"z","v":170},{"t":0.34,"c":"z","v":37},{"t":0.43,"c":"z","v":-93},{"t":0.49,"c":"z","v":-42},{"t":0.55,"c":"z","v":-9},{"t":0.57,"c":"z","v":12},{"t":0.64,"c":"z","v":23},{"t":0.68,"c":"z","v":-9},{"t":0.74,"c":"z","v":-6},{"t":0.79,"c":"z","v":3},{"t":0.84,"c":"z","v":-9},{"t":0.87,"c":"z","v":-31},{"t":0.91,"c":"z","v":-50},{"t":0.94,"c":"z","v":-36},{"t":0.98,"c":"z","v":-45},{"t":1.04,"c":"z","v":-39},{"t":1.09,"c":"z","v":-45},{"t":1.17,"c":"z","v":-36},{"t":1.25,"c":"z","v":-31},{"t":1.34,"c":"z","v":-25},{"t":1.43,"c":"z","v":-25},{"t":1.55,"c":"z","v":-18},{"t":1.62,"c":"z","v":-16},{"t":1.74,"c":"z","v":-7},{"t":1.85,"c":"z","v":0},{"t":1.94,"c":"z","v":-5},{"t":2.02,"c":"z","v":-1},{"t":2.11,"c":"z","v":-9},{"t":2.25,"c":"z","v":-12},{"t":2.38,"c":"z","v":-8},{"t":2.49,"c":"z","v":-11},{"t":2.59,"c":"z","v":-17},{"t":2.68,"c":"z","v":-11},{"t":2.83,"c":"z","v":-8},{"t":2.95,"c":"z","v":-13},{"t":3.08,"c":"z","v":-7},{"t":3.21,"c":"z","v":-5},{"t":3.30,"c":"z","v":-8},{"t":3.45,"c":"z","v":-5},{"t":3.59,"c":"z","v":-9},{"t":3.74,"c":"z","v":-7},{"t":3.89,"c":"z","v":-9},{"t":4.04,"c":"z","v":-5},{"t":4.23,"c":"z","v":-7},{"t":4.40,"c":"z","v":-15},{"t":4.45,"c":"z","v":-7},{"t":4.64,"c":"z","v":-7},{"t":4.8,"c":"z","v":-6},{"t":5.0,"c":"z","v":-5},{"t":5.2,"c":"z","v":-7},{"t":5.4,"c":"z","v":-6},{"t":5.6,"c":"z","v":-6},{"t":5.8,"c":"z","v":-7},{"t":6.0,"c":"z","v":-7},{"t":6.12,"c":"z","v":-9},{"t":6.27,"c":"z","v":-5},{"t":6.41,"c":"z","v":-5},{"t":6.49,"c":"z","v":-1},{"t":6.55,"c":"z","v":-3},{"t":6.67,"c":"z","v":8},{"t":6.75,"c":"z","v":8},{"t":6.80,"c":"z","v":13},{"t":6.88,"c":"z","v":16},{"t":6.94,"c":"z","v":20},{"t":7.00,"c":"z","v":29},{"t":7.05,"c":"z","v":36},{"t":7.11,"c":"z","v":32},{"t":7.16,"c":"z","v":22},{"t":7.20,"c":"z","v":1},{"t":7.26,"c":"z","v":-13},{"t":7.32,"c":"z","v":-22},{"t":7.36,"c":"z","v":-42},{"t":7.40,"c":"z","v":-67},{"t":7.45,"c":"z","v":-50},{"t":7.51,"c":"z","v":-36},{"t":7.59,"c":"z","v":-28},{"t":7.67,"c":"z","v":-11},{"t":7.73,"c":"z","v":-18},{"t":7.79,"c":"z","v":-14},{"t":7.85,"c":"z","v":-5},{"t":7.91,"c":"z","v":-8},{"t":7.97,"c":"z","v":-5},{"t":8.02,"c":"z","v":-11},{"t":8.08,"c":"z","v":-25},{"t":8.12,"c":"z","v":-28},{"t":8.16,"c":"z","v":-47},{"t":8.21,"c":"z","v":-73},{"t":8.26,"c":"z","v":-70},{"t":8.30,"c":"z","v":-31},{"t":8.34,"c":"z","v":51},{"t":8.38,"c":"z","v":68},{"t":8.42,"c":"z","v":105},{"t":8.48,"c":"z","v":153},{"t":8.52,"c":"z","v":88},{"t":8.56,"c":"z","v":-31},{"t":8.59,"c":"z","v":-104},{"t":8.62,"c":"z","v":-127},{"t":8.65,"c":"z","v":-62},{"t":8.69,"c":"z","v":-96},{"t":8.75,"c":"z","v":-53},{"t":8.81,"c":"z","v":15},{"t":8.85,"c":"z","v":18},{"t":8.89,"c":"z","v":-25},{"t":8.93,"c":"z","v":9},{"t":8.97,"c":"z","v":-14},{"t":9.03,"c":"z","v":-5},{"t":9.11,"c":"z","v":-2},{"t":9.19,"c":"z","v":23},{"t":9.27,"c":"z","v":49},{"t":9.32,"c":"z","v":60},{"t":9.36,"c":"z","v":40},{"t":9.40,"c":"z","v":74},{"t":9.45,"c":"z","v":51},{"t":9.50,"c":"z","v":68},{"t":9.56,"c":"z","v":85},{"t":9.62,"c":"z","v":74},{"t":9.69,"c":"z","v":89},{"t":9.74,"c":"z","v":71},{"t":9.80,"c":"z","v":71},{"t":9.86,"c":"z","v":49},{"t":9.91,"c":"z","v":60},{"t":9.99,"c":"z","v":51},{"t":10.05,"c":"z","v":23},{"t":10.09,"c":"z","v":26},{"t":10.15,"c":"z","v":9},{"t":10.21,"c":"z","v":1},{"t":10.29,"c":"z","v":-5},{"t":10.37,"c":"z","v":-5},{"t":10.45,"c":"z","v":-11},{"t":10.52,"c":"z","v":-14},{"t":10.60,"c":"z","v":-16},{"t":10.68,"c":"z","v":-19},{"t":10.74,"c":"z","v":-31},{"t":10.80,"c":"z","v":-39},{"t":10.86,"c":"z","v":-47},{"t":10.91,"c":"z","v":-70},{"t":10.97,"c":"z","v":-67},{"t":11.04,"c":"z","v":-85},{"t":11.08,"c":"z","v":-73},{"t":11.12,"c":"z","v":-90},{"t":11.16,"c":"z","v":-98},{"t":11.21,"c":"z","v":-76},{"t":11.26,"c":"z","v":-90},{"t":11.31,"c":"z","v":-76},{"t":11.37,"c":"z","v":-87},{"t":11.43,"c":"z","v":-65},{"t":11.51,"c":"z","v":-62},{"t":11.57,"c":"z","v":-56},{"t":11.62,"c":"z","v":-45},{"t":11.67,"c":"z","v":-36},{"t":11.71,"c":"z","v":-5},{"t":11.75,"c":"z","v":1},{"t":11.78,"c":"z","v":-16},{"t":11.82,"c":"z","v":-28},{"t":11.88,"c":"z","v":-11},{"t":11.94,"c":"z","v":-11},{"t":12.02,"c":"z","v":-8},{"t":12.10,"c":"z","v":-18},{"t":12.20,"c":"z","v":-8}
],
"mag": [
{"t":0.04,"c":"x","v":-0.072},{"t":0.08,"c":"x","v":-0.060},{"t":0.13,"c":"x","v":-0.068},{"t":0.19,"c":"x","v":-0.032},{"t":0.25,"c":"x","v":0.074},{"t":0.28,"c":"x","v":0.163},{"t":0.32,"c":"x","v":0.228},{"t":0.38,"c":"x","v":0.261},{"t":0.49,"c":"x","v":0.273},{"t":0.60,"c":"x","v":0.284},{"t":0.70,"c":"x","v":0.289},{"t":0.77,"c":"x","v":0.285},{"t":0.83,"c":"x","v":0.300},{"t":0.88,"c":"x","v":0.277},{"t":0.92,"c":"x","v":0.232},{"t":0.98,"c":"x","v":0.196},{"t":1.04,"c":"x","v":0.159},{"t":1.09,"c":"x","v":0.119},{"t":1.15,"c":"x","v":0.070},{"t":1.21,"c":"x","v":0.041},{"t":1.26,"c":"x","v":0.025},{"t":1.30,"c":"x","v":0.013},{"t":1.34,"c":"x","v":-0.015},{"t":1.40,"c":"x","v":-0.036},{"t":1.45,"c":"x","v":-0.056},{"t":1.51,"c":"x","v":-0.085},{"t":1.57,"c":"x","v":-0.109},{"t":1.61,"c":"x","v":-0.121},{"t":1.66,"c":"x","v":-0.109},{"t":1.74,"c":"x","v":-0.117},{"t":1.83,"c":"x","v":-0.111},{"t":1.94,"c":"x","v":-0.115},{"t":2.04,"c":"x","v":-0.121},{"t":2.15,"c":"x","v":-0.131},{"t":2.25,"c":"x","v":-0.154},{"t":2.34,"c":"x","v":-0.158},{"t":2.42,"c":"x","v":-0.178},{"t":2.49,"c":"x","v":-0.202},{"t":2.59,"c":"x","v":-0.211},{"t":2.65,"c":"x","v":-0.239},{"t":2.76,"c":"x","v":-0.251},{"t":2.89,"c":"x","v":-0.268},{"t":2.96,"c":"x","v":-0.290},{"t":3.10,"c":"x","v":-0.300},{"t":3.21,"c":"x","v":-0.308},{"t":3.28,"c":"x","v":-0.318},{"t":3.43,"c":"x","v":-0.318},{"t":3.53,"c":"x","v":-0.328},{"t":3.66,"c":"x","v":-0.328},{"t":3.74,"c":"x","v":-0.334},{"t":3.83,"c":"x","v":-0.328},{"t":3.94,"c":"x","v":-0.336},{"t":4.06,"c":"x","v":-0.334},{"t":4.15,"c":"x","v":-0.328},{"t":4.27,"c":"x","v":-0.339},{"t":4.36,"c":"x","v":-0.333},{"t":4.51,"c":"x","v":-0.334},{"t":4.57,"c":"x","v":-0.328},{"t":4.63,"c":"x","v":-0.342},{"t":4.8,"c":"x","v":-0.339},{"t":5.0,"c":"x","v":-0.343},{"t":5.1,"c":"x","v":-0.338},{"t":5.3,"c":"x","v":-0.345},{"t":5.5,"c":"x","v":-0.340},{"t":5.7,"c":"x","v":-0.346},{"t":5.9,"c":"x","v":-0.341},{"t":6.12,"c":"x","v":-0.345},{"t":6.19,"c":"x","v":-0.347},{"t":6.29,"c":"x","v":-0.337},{"t":6.35,"c":"x","v":-0.345},{"t":6.45,"c":"x","v":-0.333},{"t":6.55,"c":"x","v":-0.316},{"t":6.61,"c":"x","v":-0.304},{"t":6.67,"c":"x","v":-0.272},{"t":6.75,"c":"x","v":-0.227},{"t":6.82,"c":"x","v":-0.198},{"t":6.92,"c":"x","v":-0.162},{"t":6.98,"c":"x","v":-0.125},{"t":7.02,"c":"x","v":-0.089},{"t":7.08,"c":"x","v":0.000},{"t":7.14,"c":"x","v":0.074},{"t":7.20,"c":"x","v":0.123},{"t":7.26,"c":"x","v":0.163},{"t":7.32,"c":"x","v":0.184},{"t":7.37,"c":"x","v":0.196},{"t":7.45,"c":"x","v":0.204},{"t":7.57,"c":"x","v":0.212},{"t":7.67,"c":"x","v":0.212},{"t":7.77,"c":"x","v":0.219},{"t":7.89,"c":"x","v":0.216},{"t":7.99,"c":"x","v":0.216},{"t":8.08,"c":"x","v":0.214},{"t":8.16,"c":"x","v":0.208},{"t":8.24,"c":"x","v":0.188},{"t":8.32,"c":"x","v":0.178},{"t":8.40,"c":"x","v":0.189},{"t":8.48,"c":"x","v":0.189},{"t":8.56,"c":"x","v":0.189},{"t":8.61,"c":"x","v":0.212},{"t":8.67,"c":"x","v":0.206},{"t":8.75,"c":"x","v":0.216},{"t":8.83,"c":"x","v":0.206},{"t":8.91,"c":"x","v":0.208},{"t":8.97,"c":"x","v":0.188},{"t":9.05,"c":"x","v":0.188},{"t":9.11,"c":"x","v":0.179},{"t":9.19,"c":"x","v":0.188},{"t":9.26,"c":"x","v":0.197},{"t":9.34,"c":"x","v":0.216},{"t":9.44,"c":"x","v":0.220},{"t":9.54,"c":"x","v":0.227},{"t":9.64,"c":"x","v":0.230},{"t":9.74,"c":"x","v":0.235},{"t":9.84,"c":"x","v":0.238},{"t":9.91,"c":"x","v":0.237},{"t":9.97,"c":"x","v":0.228},{"t":10.05,"c":"x","v":0.232},{"t":10.13,"c":"x","v":0.227},{"t":10.27,"c":"x","v":0.237},{"t":10.35,"c":"x","v":0.227},{"t":10.45,"c":"x","v":0.230},{"t":10.54,"c":"x","v":0.228},{"t":10.60,"c":"x","v":0.216},{"t":10.68,"c":"x","v":0.232},{"t":10.76,"c":"x","v":0.227},{"t":10.84,"c":"x","v":0.238},{"t":10.92,"c":"x","v":0.240},{"t":11.00,"c":"x","v":0.249},{"t":11.08,"c":"x","v":0.265},{"t":11.15,"c":"x","v":0.270},{"t":11.21,"c":"x","v":0.277},{"t":11.27,"c":"x","v":0.267},{"t":11.33,"c":"x","v":0.275},{"t":11.41,"c":"x","v":0.265},{"t":11.49,"c":"x","v":0.253},{"t":11.57,"c":"x","v":0.237},{"t":11.63,"c":"x","v":0.220},{"t":11.71,"c":"x","v":0.208},{"t":11.78,"c":"x","v":0.220},{"t":11.86,"c":"x","v":0.222},{"t":11.94,"c":"x","v":0.210},{"t":12.02,"c":"x","v":0.206},{"t":12.10,"c":"x","v":0.204},{"t":12.16,"c":"x","v":0.192},{"t":12.21,"c":"x","v":0.198},
{"t":0.01,"c":"y","v":-0.020},{"t":0.05,"c":"y","v":-0.024},{"t":0.11,"c":"y","v":-0.003},{"t":0.16,"c":"y","v":0.033},{"t":0.19,"c":"y","v":0.074},{"t":0.25,"c":"y","v":0.135},{"t":0.30,"c":"y","v":0.139},{"t":0.36,"c":"y","v":0.140},{"t":0.42,"c":"y","v":0.119},{"t":0.47,"c":"y","v":0.102},{"t":0.51,"c":"y","v":0.082},{"t":0.57,"c":"y","v":0.098},{"t":0.64,"c":"y","v":0.114},{"t":0.70,"c":"y","v":0.124},{"t":0.75,"c":"y","v":0.119},{"t":0.83,"c":"y","v":0.116},{"t":0.91,"c":"y","v":0.106},{"t":0.98,"c":"y","v":0.094},{"t":1.04,"c":"y","v":0.082},{"t":1.09,"c":"y","v":0.057},{"t":1.15,"c":"y","v":0.041},{"t":1.23,"c":"y","v":0.025},{"t":1.26,"c":"y","v":0.001},{"t":1.32,"c":"y","v":-0.012},{"t":1.40,"c":"y","v":-0.017},{"t":1.47,"c":"y","v":-0.032},{"t":1.57,"c":"y","v":-0.038},{"t":1.66,"c":"y","v":-0.044},{"t":1.74,"c":"y","v":-0.041},{"t":1.81,"c":"y","v":-0.046},{"t":1.92,"c":"y","v":-0.041},{"t":2.04,"c":"y","v":-0.044},{"t":2.11,"c":"y","v":-0.038},{"t":2.19,"c":"y","v":-0.040},{"t":2.26,"c":"y","v":-0.030},{"t":2.34,"c":"y","v":-0.036},{"t":2.42,"c":"y","v":-0.028},{"t":2.49,"c":"y","v":-0.033},{"t":2.57,"c":"y","v":-0.024},{"t":2.64,"c":"y","v":-0.032},{"t":2.72,"c":"y","v":-0.020},{"t":2.81,"c":"y","v":-0.014},{"t":2.89,"c":"y","v":-0.003},{"t":2.98,"c":"y","v":-0.007},{"t":3.10,"c":"y","v":0.001},{"t":3.21,"c":"y","v":0.005},{"t":3.32,"c":"y","v":0.007},{"t":3.42,"c":"y","v":0.009},{"t":3.45,"c":"y","v":-0.003},{"t":3.53,"c":"y","v":0.005},{"t":3.63,"c":"y","v":0.009},{"t":3.74,"c":"y","v":0.007},{"t":3.87,"c":"y","v":0.015},{"t":3.96,"c":"y","v":0.005},{"t":4.04,"c":"y","v":0.011},{"t":4.11,"c":"y","v":0.007},{"t":4.21,"c":"y","v":0.011},{"t":4.32,"c":"y","v":0.005},{"t":4.42,"c":"y","v":0.013},{"t":4.51,"c":"y","v":0.007},{"t":4.64,"c":"y","v":0.013},{"t":4.8,"c":"y","v":0.009},{"t":5.0,"c":"y","v":0.012},{"t":5.2,"c":"y","v":0.010},{"t":5.4,"c":"y","v":0.011},{"t":5.6,"c":"y","v":0.009},{"t":5.8,"c":"y","v":0.012},{"t":5.85,"c":"y","v":0.020},{"t":5.9,"c":"y","v":0.011},{"t":6.0,"c":"y","v":0.010},{"t":6.12,"c":"y","v":0.011},{"t":6.19,"c":"y","v":0.009},{"t":6.27,"c":"y","v":0.019},{"t":6.33,"c":"y","v":0.011},{"t":6.39,"c":"y","v":0.013},{"t":6.45,"c":"y","v":0.001},{"t":6.53,"c":"y","v":0.002},{"t":6.61,"c":"y","v":0.001},{"t":6.67,"c":"y","v":-0.012},{"t":6.73,"c":"y","v":-0.028},{"t":6.78,"c":"y","v":-0.022},{"t":6.82,"c":"y","v":-0.028},{"t":6.88,"c":"y","v":-0.008},{"t":6.96,"c":"y","v":0.002},{"t":7.00,"c":"y","v":0.005},{"t":7.05,"c":"y","v":0.037},{"t":7.12,"c":"y","v":0.078},{"t":7.18,"c":"y","v":0.115},{"t":7.24,"c":"y","v":0.151},{"t":7.30,"c":"y","v":0.176},{"t":7.34,"c":"y","v":0.189},{"t":7.37,"c":"y","v":0.176},{"t":7.43,"c":"y","v":0.151},{"t":7.49,"c":"y","v":0.123},{"t":7.55,"c":"y","v":0.106},{"t":7.61,"c":"y","v":0.094},{"t":7.67,"c":"y","v":0.098},{"t":7.77,"c":"y","v":0.098},{"t":7.85,"c":"y","v":0.094},{"t":7.93,"c":"y","v":0.090},{"t":8.01,"c":"y","v":0.100},{"t":8.08,"c":"y","v":0.082},{"t":8.16,"c":"y","v":0.070},{"t":8.24,"c":"y","v":0.057},{"t":8.30,"c":"y","v":0.082},{"t":8.36,"c":"y","v":0.119},{"t":8.40,"c":"y","v":0.167},{"t":8.46,"c":"y","v":0.237},{"t":8.50,"c":"y","v":0.257},{"t":8.54,"c":"y","v":0.212},{"t":8.58,"c":"y","v":0.163},{"t":8.60,"c":"y","v":0.094},{"t":8.65,"c":"y","v":0.062},{"t":8.71,"c":"y","v":0.033},{"t":8.79,"c":"y","v":-0.003},{"t":8.87,"c":"y","v":0.009},{"t":8.95,"c":"y","v":0.007},{"t":9.05,"c":"y","v":0.009},{"t":9.15,"c":"y","v":0.021},{"t":9.25,"c":"y","v":0.033},{"t":9.34,"c":"y","v":0.050},{"t":9.44,"c":"y","v":0.074},{"t":9.52,"c":"y","v":0.098},{"t":9.60,"c":"y","v":0.135},{"t":9.66,"c":"y","v":0.167},{"t":9.71,"c":"y","v":0.188},{"t":9.76,"c":"y","v":0.216},{"t":9.84,"c":"y","v":0.241},{"t":9.89,"c":"y","v":0.261},{"t":9.95,"c":"y","v":0.277},{"t":9.97,"c":"y","v":0.298},{"t":10.05,"c":"y","v":0.302},{"t":10.13,"c":"y","v":0.314},{"t":10.21,"c":"y","v":0.324},{"t":10.29,"c":"y","v":0.326},{"t":10.35,"c":"y","v":0.322},{"t":10.41,"c":"y","v":0.330},{"t":10.45,"c":"y","v":0.319},{"t":10.52,"c":"y","v":0.330},{"t":10.60,"c":"y","v":0.327},{"t":10.68,"c":"y","v":0.322},{"t":10.76,"c":"y","v":0.318},{"t":10.84,"c":"y","v":0.310},{"t":10.90,"c":"y","v":0.310},{"t":10.94,"c":"y","v":0.295},{"t":11.02,"c":"y","v":0.281},{"t":11.08,"c":"y","v":0.261},{"t":11.13,"c":"y","v":0.220},{"t":11.19,"c":"y","v":0.180},{"t":11.25,"c":"y","v":0.139},{"t":11.31,"c":"y","v":0.102},{"t":11.39,"c":"y","v":0.062},{"t":11.47,"c":"y","v":0.025},{"t":11.55,"c":"y","v":0.005},{"t":11.61,"c":"y","v":0.002},{"t":11.65,"c":"y","v":-0.015},{"t":11.71,"c":"y","v":-0.020},{"t":11.78,"c":"y","v":-0.022},{"t":11.86,"c":"y","v":-0.028},{"t":11.94,"c":"y","v":-0.024},{"t":12.02,"c":"y","v":-0.022},{"t":12.10,"c":"y","v":-0.017},{"t":12.20,"c":"y","v":-0.024},
{"t":0.04,"c":"z","v":-0.068},{"t":0.09,"c":"z","v":-0.080},{"t":0.15,"c":"z","v":-0.087},{"t":0.18,"c":"z","v":-0.096},{"t":0.23,"c":"z","v":-0.085},{"t":0.26,"c":"z","v":-0.015},{"t":0.30,"c":"z","v":0.037},{"t":0.34,"c":"z","v":0.082},{"t":0.40,"c":"z","v":0.111},{"t":0.45,"c":"z","v":0.127},{"t":0.51,"c":"z","v":0.143},{"t":0.60,"c":"z","v":0.151},{"t":0.70,"c":"z","v":0.157},{"t":0.76,"c":"z","v":0.162},{"t":0.82,"c":"z","v":0.162},{"t":0.87,"c":"z","v":0.135},{"t":0.91,"c":"z","v":0.074},{"t":0.96,"c":"z","v":0.061},{"t":0.99,"c":"z","v":0.033},{"t":1.04,"c":"z","v":0.009},{"t":1.09,"c":"z","v":0.001},{"t":1.12,"c":"z","v":-0.020},{"t":1.17,"c":"z","v":-0.036},{"t":1.21,"c":"z","v":-0.052},{"t":1.25,"c":"z","v":-0.050},{"t":1.30,"c":"z","v":-0.064},{"t":1.36,"c":"z","v":-0.074},{"t":1.47,"c":"z","v":-0.076},{"t":1.58,"c":"z","v":-0.080},{"t":1.66,"c":"z","v":-0.079},{"t":1.74,"c":"z","v":-0.085},{"t":1.79,"c":"z","v":-0.079},{"t":1.85,"c":"z","v":-0.068},{"t":1.91,"c":"z","v":-0.085},{"t":2.00,"c":"z","v":-0.082},{"t":2.09,"c":"z","v":-0.085},{"t":2.15,"c":"z","v":-0.076},{"t":2.25,"c":"z","v":-0.089},{"t":2.38,"c":"z","v":-0.085},{"t":2.49,"c":"z","v":-0.080},{"t":2.60,"c":"z","v":-0.085},{"t":2.74,"c":"z","v":-0.087},{"t":2.83,"c":"z","v":-0.076},{"t":2.91,"c":"z","v":-0.079},{"t":3.02,"c":"z","v":-0.074},{"t":3.08,"c":"z","v":-0.079},{"t":3.17,"c":"z","v":-0.074},{"t":3.28,"c":"z","v":-0.082},{"t":3.40,"c":"z","v":-0.072},{"t":3.49,"c":"z","v":-0.080},{"t":3.61,"c":"z","v":-0.068},{"t":3.70,"c":"z","v":-0.076},{"t":3.81,"c":"z","v":-0.068},{"t":3.93,"c":"z","v":-0.074},{"t":4.04,"c":"z","v":-0.072},{"t":4.17,"c":"z","v":-0.068},{"t":4.30,"c":"z","v":-0.072},{"t":4.42,"c":"z","v":-0.068},{"t":4.49,"c":"z","v":-0.076},{"t":4.61,"c":"z","v":-0.068},{"t":4.8,"c":"z","v":-0.067},{"t":5.0,"c":"z","v":-0.069},{"t":5.2,"c":"z","v":-0.066},{"t":5.4,"c":"z","v":-0.068},{"t":5.6,"c":"z","v":-0.065},{"t":5.8,"c":"z","v":-0.068},{"t":6.0,"c":"z","v":-0.066},{"t":6.12,"c":"z","v":-0.064},{"t":6.23,"c":"z","v":-0.066},{"t":6.35,"c":"z","v":-0.063},{"t":6.43,"c":"z","v":-0.068},{"t":6.51,"c":"z","v":-0.066},{"t":6.59,"c":"z","v":-0.072},{"t":6.67,"c":"z","v":-0.079},{"t":6.75,"c":"z","v":-0.082},{"t":6.82,"c":"z","v":-0.087},{"t":6.92,"c":"z","v":-0.085},{"t":6.98,"c":"z","v":-0.089},{"t":7.04,"c":"z","v":-0.098},{"t":7.10,"c":"z","v":-0.089},{"t":7.16,"c":"z","v":-0.064},{"t":7.20,"c":"z","v":-0.048},{"t":7.26,"c":"z","v":-0.040},{"t":7.30,"c":"z","v":-0.007},{"t":7.37,"c":"z","v":0.007},{"t":7.43,"c":"z","v":0.033},{"t":7.51,"c":"z","v":0.054},{"t":7.59,"c":"z","v":0.059},{"t":7.67,"c":"z","v":0.050},{"t":7.75,"c":"z","v":0.059},{"t":7.85,"c":"z","v":0.057},{"t":7.95,"c":"z","v":0.054},{"t":8.02,"c":"z","v":0.059},{"t":8.10,"c":"z","v":0.064},{"t":8.18,"c":"z","v":0.050},{"t":8.26,"c":"z","v":0.041},{"t":8.32,"c":"z","v":0.021},{"t":8.40,"c":"z","v":0.007},{"t":8.46,"c":"z","v":0.019},{"t":8.52,"c":"z","v":0.013},{"t":8.60,"c":"z","v":0.041},{"t":8.65,"c":"z","v":0.074},{"t":8.71,"c":"z","v":0.090},{"t":8.77,"c":"z","v":0.115},{"t":8.81,"c":"z","v":0.090},{"t":8.87,"c":"z","v":0.094},{"t":8.93,"c":"z","v":0.090},{"t":8.97,"c":"z","v":0.070},{"t":9.05,"c":"z","v":0.062},{"t":9.13,"c":"z","v":0.056},{"t":9.21,"c":"z","v":0.062},{"t":9.28,"c":"z","v":0.062},{"t":9.36,"c":"z","v":0.070},{"t":9.42,"c":"z","v":0.076},{"t":9.50,"c":"z","v":0.062},{"t":9.58,"c":"z","v":0.057},{"t":9.66,"c":"z","v":0.050},{"t":9.72,"c":"z","v":0.057},{"t":9.80,"c":"z","v":0.051},{"t":9.89,"c":"z","v":0.054},{"t":9.97,"c":"z","v":0.070},{"t":10.05,"c":"z","v":0.068},{"t":10.17,"c":"z","v":0.070},{"t":10.27,"c":"z","v":0.074},{"t":10.35,"c":"z","v":0.076},{"t":10.39,"c":"z","v":0.064},{"t":10.49,"c":"z","v":0.062},{"t":10.58,"c":"z","v":0.056},{"t":10.66,"c":"z","v":0.068},{"t":10.76,"c":"z","v":0.070},{"t":10.84,"c":"z","v":0.074},{"t":10.90,"c":"z","v":0.086},{"t":10.98,"c":"z","v":0.078},{"t":11.04,"c":"z","v":0.078},{"t":11.12,"c":"z","v":0.106},{"t":11.19,"c":"z","v":0.127},{"t":11.27,"c":"z","v":0.135},{"t":11.33,"c":"z","v":0.140},{"t":11.41,"c":"z","v":0.131},{"t":11.49,"c":"z","v":0.137},{"t":11.57,"c":"z","v":0.135},{"t":11.65,"c":"z","v":0.127},{"t":11.73,"c":"z","v":0.133},{"t":11.80,"c":"z","v":0.131},{"t":11.90,"c":"z","v":0.131},{"t":11.94,"c":"z","v":0.119},{"t":12.02,"c":"z","v":0.115},{"t":12.10,"c":"z","v":0.102},{"t":12.20,"c":"z","v":0.084}
]
},
"vconcat": [
{
"width": 1077, "height": 290,
"title": {"text": "Акселерометр", "anchor": "start", "frame": "group", "dx": 99, "offset": -70, "baseline": "alphabetic", "fontSize": 36, "fontWeight": 400, "font": "DejaVu Sans", "color": "#1d1d1b"},
"data": {"name": "acc"},
"mark": {"type": "line", "strokeWidth": 3.8, "strokeJoin": "round", "strokeCap": "round"},
"encoding": {
"x": {"field": "t", "type": "quantitative", "scale": {"domain": [0, 12.2], "nice": false, "zero": false}, "axis": null},
"y": {"field": "v", "type": "quantitative", "scale": {"domain": [-1.4, 1.2], "nice": false, "zero": false}, "axis": {"values": [-1, -0.5, 0, 0.5, 1], "labelExpr": "datum.value == 0 ? '0' : replace(format(datum.value, '.1f'), '.', ',')", "title": "g", "titleAngle": 0, "titleAlign": "center", "titleBaseline": "alphabetic", "titleX": -80, "titleY": -23, "titleFontSize": 28, "labelPadding": 48}},
"color": {"field": "c", "type": "nominal", "scale": {"domain": ["x", "y", "z"], "range": ["#6cbde3", "#e5679f", "#1d1d1b"]}, "legend": null}
}
},
{
"width": 1077, "height": 286,
"title": {"text": "Гироскоп", "anchor": "start", "frame": "group", "dx": 99, "offset": -35, "baseline": "alphabetic", "fontSize": 36, "fontWeight": 400, "font": "DejaVu Sans", "color": "#1d1d1b"},
"data": {"name": "gyr"},
"mark": {"type": "line", "strokeWidth": 3.8, "strokeJoin": "round", "strokeCap": "round"},
"encoding": {
"x": {"field": "t", "type": "quantitative", "scale": {"domain": [0, 12.2], "nice": false, "zero": false}, "axis": null},
"y": {"field": "v", "type": "quantitative", "scale": {"domain": [-310, 175], "nice": false, "zero": false}, "axis": {"values": [-300, -200, -100, 0, 100], "format": "d", "title": "град./с", "titleAngle": 0, "titleAlign": "left", "titleBaseline": "alphabetic", "titleX": -112, "titleY": -2, "titleFontSize": 31, "labelPadding": 35}},
"color": {"field": "c", "type": "nominal", "scale": {"domain": ["x", "y", "z"], "range": ["#6cbde3", "#e5679f", "#1d1d1b"]}, "legend": null}
}
},
{
"width": 1077, "height": 291,
"title": {"text": "Магнитометр", "anchor": "start", "frame": "group", "dx": 99, "offset": -43, "baseline": "alphabetic", "fontSize": 36, "fontWeight": 400, "font": "DejaVu Sans", "color": "#1d1d1b"},
"data": {"name": "mag"},
"mark": {"type": "line", "strokeWidth": 3.8, "strokeJoin": "round", "strokeCap": "round"},
"encoding": {
"x": {"field": "t", "type": "quantitative", "scale": {"domain": [0, 12.2], "nice": false, "zero": false}, "axis": {"values": [0, 2, 4, 6, 8, 10, 12], "format": "d", "title": null, "labelPadding": 21}},
"y": {"field": "v", "type": "quantitative", "scale": {"domain": [-0.36, 0.35], "nice": false, "zero": false}, "axis": {"values": [-0.3, -0.2, -0.1, 0, 0.1, 0.2, 0.3], "labelExpr": "datum.value == 0 ? '0' : replace(format(datum.value, '.1f'), '.', ',')", "title": "Гаусс", "titleAngle": 0, "titleAlign": "left", "titleBaseline": "alphabetic", "titleX": -110, "titleY": -15, "titleFontSize": 31, "labelPadding": 48}},
"color": {"field": "c", "type": "nominal", "scale": {"domain": ["x", "y", "z"], "range": ["#6cbde3", "#e5679f", "#1d1d1b"]}, "legend": {"orient": "none", "legendX": 901, "legendY": 158, "title": null, "symbolType": "stroke", "symbolSize": 2025, "symbolStrokeWidth": 4, "labelFontSize": 30, "labelOffset": 11, "clipHeight": 33, "rowPadding": 0, "padding": 21, "cornerRadius": 70, "strokeColor": "#333333"}}
}
}
],
"spacing": 88,
"bounds": "flush",
"resolve": {"scale": {"y": "independent", "color": "independent"}, "legend": {"color": "independent"}},
"config": {
"font": "DejaVu Sans",
"view": {"stroke": null},
"axis": {"domain": false, "ticks": false, "grid": false, "labelFont": "DejaVu Sans", "labelFontSize": 30, "labelColor": "#1d1d1b", "labelFontWeight": 400, "labelOverlap": false, "labelBound": false, "labelFlush": false, "titleFont": "DejaVu Sans", "titleFontWeight": 400, "titleColor": "#1d1d1b"},
"legend": {"labelFont": "DejaVu Sans", "labelColor": "#1d1d1b", "strokeDash": [4, 3], "strokeWidth": 1.3}
}
}
